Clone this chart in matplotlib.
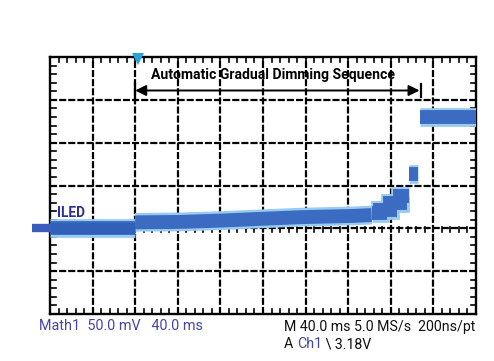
import numpy as np
import matplotlib
matplotlib.use("Agg")
import matplotlib.pyplot as plt
from matplotlib.patches import FancyArrowPatch

# ---- data (time in ms, level in mV) ----
time_div_ms = 40
level_div_mv = 50
n_xdiv = 10
n_ydiv = 6

base_t = [0, 80]
base_v = [100.5, 100.5]
ramp_t = [80, 122, 160, 197, 235, 285, 302]
ramp_v = [107, 107.5, 109, 111, 113, 114.5, 115.5]
step_t = [302, 310, 319, 329, 337]
step_v = [118, 121.5, 130, 138]
pulse_t = [337, 346]
pulse_v = [163, 163]
final_t = [347, 400]
final_v = [230, 230]

seq_start_ms = 80
seq_end_ms = 347
trigger_ms = 83

label_title = "Automatic Gradual Dimming Sequence"
label_trace = "ILED"
footer_left = "Math1  50.0 mV   40.0 ms"
footer_right = "M 40.0 ms 5.0 MS/s  200ns/pt"

W, H = 494, 361
fig = plt.figure(figsize=(W / 100, H / 100), dpi=100)
L, R, T, B = 50, 476, 57, 314
ax = fig.add_axes([L / W, 1 - B / H, (R - L) / W, (B - T) / H])
xmax = time_div_ms * n_xdiv
ymax = level_div_mv * n_ydiv
ax.set_xlim(0, xmax)
ax.set_ylim(0, ymax)
ax.set_xticks([])
ax.set_yticks([])
for s in ax.spines.values():
    s.set_linewidth(1.7)
    s.set_color("black")

# grid
dash = (0, (3.2, 0.9))
for i in range(1, n_xdiv):
    ax.axvline(i * time_div_ms, color="black", lw=1.6, ls=dash, zorder=1)
for j in range(1, n_ydiv):
    ax.axhline(j * level_div_mv, color="black", lw=1.6, ls=dash, zorder=1)

# minor ticks on edges and on 100 mV line
mx = np.arange(0, xmax + 0.1, time_div_ms / 5)
my = np.arange(0, ymax + 0.1, level_div_mv / 5)
tkx = 5.5 / (B - T) * ymax
tky = 5.5 / (R - L) * xmax
kw = dict(color="black", lw=1.2, zorder=2)
for x in mx:
    ax.plot([x, x], [ymax, ymax - tkx], **kw)
    ax.plot([x, x], [0, tkx], **kw)
    ax.plot([x, x], [100 - tkx * 0.6, 100 + tkx * 0.3], **kw)
for y in my:
    ax.plot([0, tky], [y, y], **kw)
    ax.plot([xmax, xmax - tky], [y, y], **kw)

# trace
core = "#3c6cc2"
halo = "#98cbef"
segs = [(base_t, base_v), (ramp_t, ramp_v), (pulse_t, pulse_v), (final_t, final_v)]
st, sv = [], []
for i in range(len(step_v)):
    st += [step_t[i], step_t[i + 1]]
    sv += [step_v[i], step_v[i]]
segs.insert(2, (st, sv))
for t, v in segs:
    ax.plot(t, v, color=halo, lw=13.5, solid_capstyle="butt", solid_joinstyle="miter", zorder=3)
for t, v in segs:
    ax.plot(t, v, color=core, lw=10, solid_capstyle="butt", solid_joinstyle="miter", zorder=4)
ax.plot(base_t, base_v, color="#3060b8", lw=8, solid_capstyle="butt", zorder=5)

# ground marker stub
ax.plot([-17, 0], [base_v[0], base_v[0]], color="#3a5cbf", lw=6, solid_capstyle="butt",
        clip_on=False, zorder=5)

# trigger marker
ax.plot([trigger_ms], [ymax - 2], marker="v", ms=8, color="#27a2dd", clip_on=False, zorder=6,
        markeredgewidth=0)

# sequence arrow
arrow_y = (B - 90.5) / (B - T) * ymax
bar = 7 / (B - T) * ymax
arr = FancyArrowPatch((seq_start_ms, arrow_y), (seq_end_ms, arrow_y), arrowstyle="<|-|>",
                      mutation_scale=16, color="black", lw=1.4, zorder=6, shrinkA=0, shrinkB=0)
ax.add_patch(arr)
for x in (seq_start_ms, seq_end_ms + 1):
    ax.plot([x, x], [arrow_y - bar, arrow_y + bar], color="black", lw=1.6, zorder=6)

fam = ["Roboto", "DejaVu Sans"]
fig.canvas.draw()
r = fig.canvas.get_renderer()


def put(x, y, s, width, size, **kw):
    t = fig.text(x / W, 1 - y / H, s, va="center", fontsize=size, family=fam, **kw)
    if width:
        w = t.get_window_extent(r).width
        t.set_fontsize(size * width / w)
    return t


put(273, 74.5, label_title, 243, 12, ha="center", fontweight="bold")
put(57, 213, label_trace, 28, 11, ha="left", fontweight="bold", color="#2e2e9c")

blue = "#4545a6"
put(39, 326.5, footer_left, 164, 11, ha="left", color=blue)
fr = put(284, 326.5, footer_right, 192, 11, ha="left", color="#111111")
fs = fr.get_fontsize()
t1 = put(284, 344.5, "A ", None, fs, ha="left", color="#111111")
bb = t1.get_window_extent(r)
t2 = put(bb.x1, 344.5, "Ch1", None, fs, ha="left", color=blue)
bb2 = t2.get_window_extent(r)
put(bb2.x1, 344.5, " \\ 3.18V", None, fs, ha="left", color="#111111")

fig.savefig("out.png", dpi=100)
